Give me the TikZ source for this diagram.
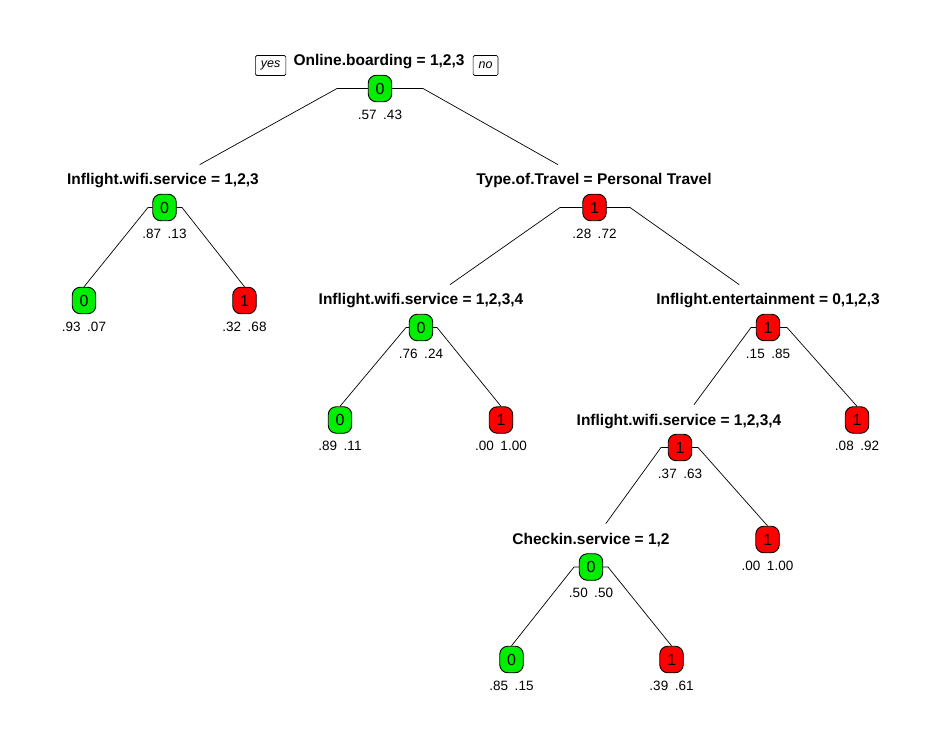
\documentclass[tikz,border=0pt]{standalone}
\usepackage{fontspec}
\setmainfont{Liberation Sans}
\usetikzlibrary{positioning}
\usetikzlibrary{shapes}
\definecolor{cls0col}{RGB}{0,238,0}
\definecolor{cls1col}{RGB}{255,0,0}
\tikzset{
	x=1pt, y=-1pt,
	every path/.style={line width=0.7pt},
	box/.style = {rectangle, rounded corners=8pt, draw, line width=0.9pt, minimum width=23.5pt, minimum height=26.5pt, inner sep=0pt, font=\fontsize{16}{18}\selectfont},
	cls0/.style = {box, fill=cls0col},
	cls1/.style = {box, fill=cls1col},
	prob/.style = {inner sep=1pt, font=\fontsize{13.5}{15}\selectfont},
	split/.style = {inner xsep=0pt, inner ysep=9pt, text height=11pt, text depth=11pt, font=\bfseries\fontsize{15.5}{18}\selectfont},
	yesno/.style = {draw, rounded corners=1.5pt, line width=0.6pt, inner xsep=5.5pt, minimum height=20pt, inner ysep=0pt, font=\itshape\fontsize{12.5}{14}\selectfont},
	every label/.style = {prob},
	label distance = 6.5pt
}
\newcommand{\pr}[2]{#1\hspace{6.5pt}#2}

\begin{document}
\begin{tikzpicture}
	\fill[white] (0,0) rectangle (942,735);
	\useasboundingbox (0,0) rectangle (942,735);

	% splits
	\node (root) [cls0, label=below:{\pr{.57}{.43}}] at (380,88.5) {0};
	\node (root-lab) [split] at (379,65.5) {Online.boarding = 1,2,3};
	\node (yes) [yesno, left = 7pt of root-lab] {yes};
	\node (no) [yesno, right = 8pt of root-lab] {no};

	\node (n2) [cls0, label=below:{\pr{.87}{.13}}] at (164.5,207.5) {0};
	\node (n2-lab) [split] at (163,185) {Inflight.wifi.service = 1,2,3};
	\node (n3) [cls1, label=below:{\pr{.28}{.72}}] at (594.5,207.5) {1};
	\node (n3-lab) [split] at (594,185) {Type.of.Travel = Personal Travel};

	\node (n6) [cls0, label=below:{\pr{.76}{.24}}] at (421,327.5) {0};
	\node (n6-lab) [split] at (421,305) {Inflight.wifi.service = 1,2,3,4};
	\node (n7) [cls1, label=below:{\pr{.15}{.85}}] at (768,327.5) {1};
	\node (n7-lab) [split] at (768,305) {Inflight.entertainment = 0,1,2,3};

	\node (n14) [cls1, label=below:{\pr{.37}{.63}}] at (680,447.5) {1};
	\node (n14-lab) [split] at (679,425) {Inflight.wifi.service = 1,2,3,4};
	\node (n28) [cls0, label=below:{\pr{.50}{.50}}] at (591,567) {0};
	\node (n28-lab) [split] at (591,544) {Checkin.service = 1,2};

	% leaves
	\node (n4) [cls0, label=below:{\pr{.93}{.07}}] at (84,300.5) {0};
	\node (n5) [cls1, label=below:{\pr{.32}{.68}}] at (244.5,300.5) {1};
	\node (n12) [cls0, label=below:{\pr{.89}{.11}}] at (340,420) {0};
	\node (n13) [cls1, label=below:{\pr{.00}{1.00}}] at (501,420) {1};
	\node (n15) [cls1, label=below:{\pr{.08}{.92}}] at (857,420) {1};
	\node (n29) [cls1, label=below:{\pr{.00}{1.00}}] at (767.5,539.5) {1};
	\node (n56) [cls0, label=below:{\pr{.85}{.15}}] at (511.5,659.5) {0};
	\node (n57) [cls1, label=below:{\pr{.39}{.61}}] at (671.5,659.5) {1};

	% branches
	\draw (root) -- ++(-43,0) -- (n2-lab);
	\draw (root) -- ++(43,0) -- (n3-lab);
	\draw (n2) -- ++(-16.5,0) -- (n4.north);
	\draw (n2) -- ++(17.5,0) -- (n5.north);
	\draw (n3) -- ++(-34.5,0) -- (n6-lab);
	\draw (n3) -- ++(35.5,0) -- (n7-lab);
	\draw (n6) -- ++(-15,0) -- (n12.north);
	\draw (n6) -- ++(16,0) -- (n13.north);
	\draw (n7) -- ++(-17,0) -- (n14-lab);
	\draw (n7) -- ++(19,0) -- (n15.north);
	\draw (n14) -- ++(-19,0) -- (n28-lab);
	\draw (n14) -- ++(18,0) -- (n29.north);
	\draw (n28) -- ++(-17,0) -- (n56.north);
	\draw (n28) -- ++(17,0) -- (n57.north);
\end{tikzpicture}
\end{document}
